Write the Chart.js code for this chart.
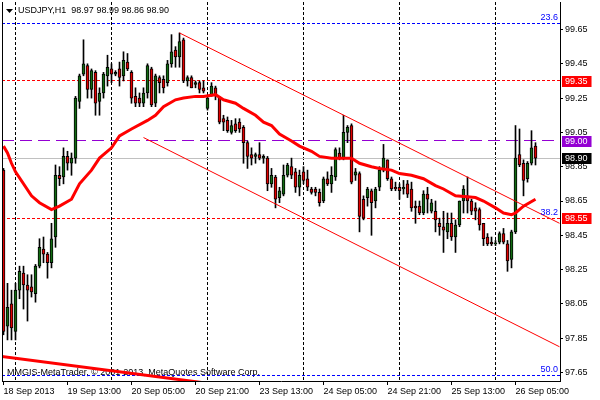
<!DOCTYPE html>
<html>
<head>
<meta charset="utf-8">
<script src="https://cdn.jsdelivr.net/npm/chart.js@4.4.0/dist/chart.umd.min.js"></script>
<style>
  html, body { margin: 0; padding: 0; background: #fff; }
</style>
</head>
<body>
<canvas id="myChart" width="600" height="400"></canvas>
<script>
const symbol = "USDJPY,H1";

// H1 bars, 18 Sep 21:00 .. 26 Sep 10:00
const opens = [98.83, 97.92, 98.05, 97.89, 98.13, 98.23, 98.16, 98.15, 98.11, 98.27, 98.37, 98.34, 98.29, 98.44, 98.80, 98.79, 98.91, 98.87, 98.90, 99.23,
  99.39, 99.44, 99.30, 99.40, 99.23, 99.28, 99.38, 99.42, 99.39, 99.42, 99.38, 99.46, 99.40, 99.26, 99.25, 99.22, 99.28, 99.42, 99.22, 99.37,
  99.36, 99.34, 99.45, 99.53, 99.49, 99.59, 99.35, 99.37, 99.33, 99.34, 99.31, 99.19, 99.27, 99.31, 99.25, 99.13, 99.12, 99.05, 99.10, 99.11,
  99.08, 98.99, 98.92, 98.91, 98.92, 98.90, 98.90, 98.75, 98.79, 98.67, 98.69, 98.80, 98.85, 98.82, 98.73, 98.82, 98.78, 98.72, 98.72, 98.70,
  98.65, 98.78, 98.75, 98.79, 98.93, 98.90, 99.05, 99.09, 98.80, 98.81, 98.66, 98.67, 98.71, 98.65, 98.73, 98.83, 98.89, 98.78, 98.73, 98.73,
  98.72, 98.75, 98.72, 98.62, 98.62, 98.58, 98.69, 98.59, 98.59, 98.52, 98.50, 98.47, 98.52, 98.44, 98.51, 98.65, 98.68, 98.65, 98.61, 98.60,
  98.52, 98.44, 98.41, 98.40, 98.41, 98.46, 98.40, 98.31, 98.47, 98.92, 98.87, 98.78, 98.87, 98.97];
const highs = [98.84, 98.17, 98.13, 98.17, 98.27, 98.27, 98.22, 98.22, 98.28, 98.43, 98.44, 98.35, 98.52, 98.86, 98.85, 98.96, 98.94, 98.93, 99.26, 99.39,
  99.59, 99.45, 99.42, 99.41, 99.31, 99.40, 99.50, 99.45, 99.41, 99.46, 99.52, 99.51, 99.41, 99.31, 99.28, 99.31, 99.45, 99.43, 99.39, 99.38,
  99.38, 99.47, 99.62, 99.55, 99.63, 99.60, 99.38, 99.38, 99.35, 99.35, 99.35, 99.26, 99.34, 99.32, 99.26, 99.15, 99.14, 99.12, 99.13, 99.13,
  99.09, 99.00, 98.96, 98.93, 98.99, 98.92, 98.91, 98.84, 98.80, 98.73, 98.86, 98.87, 98.90, 98.84, 98.83, 98.85, 98.83, 98.73, 98.73, 98.72,
  98.79, 98.82, 98.85, 98.96, 98.96, 99.15, 99.09, 99.10, 98.84, 98.82, 98.68, 98.73, 98.72, 98.73, 98.85, 98.98, 98.89, 98.79, 98.76, 98.75,
  98.77, 98.77, 98.76, 98.65, 98.65, 98.71, 98.73, 98.66, 98.65, 98.55, 98.59, 98.58, 98.58, 98.54, 98.65, 98.74, 98.79, 98.66, 98.64, 98.61,
  98.52, 98.46, 98.44, 98.42, 98.47, 98.49, 98.42, 98.48, 99.09, 99.07, 98.89, 98.88, 99.06, 98.99];
const lows = [97.87, 97.84, 97.84, 97.84, 98.08, 98.02, 97.95, 98.09, 98.06, 98.26, 98.29, 98.20, 98.26, 98.38, 98.74, 98.75, 98.83, 98.80, 98.87, 99.19,
  99.38, 99.25, 99.25, 99.15, 99.15, 99.25, 99.32, 99.34, 99.38, 99.32, 99.35, 99.41, 99.22, 99.20, 99.20, 99.20, 99.25, 99.20, 99.20, 99.28,
  99.28, 99.32, 99.43, 99.43, 99.43, 99.34, 99.32, 99.31, 99.31, 99.28, 99.28, 99.18, 99.26, 99.24, 99.10, 99.06, 99.05, 99.04, 99.05, 99.05,
  98.87, 98.84, 98.86, 98.87, 98.89, 98.87, 98.71, 98.73, 98.61, 98.64, 98.68, 98.79, 98.78, 98.70, 98.68, 98.75, 98.71, 98.69, 98.68, 98.62,
  98.64, 98.74, 98.70, 98.77, 98.89, 98.89, 98.99, 98.75, 98.77, 98.47, 98.54, 98.62, 98.45, 98.61, 98.71, 98.82, 98.77, 98.71, 98.71, 98.66,
  98.69, 98.67, 98.59, 98.52, 98.57, 98.57, 98.58, 98.58, 98.47, 98.45, 98.35, 98.43, 98.42, 98.35, 98.50, 98.58, 98.58, 98.57, 98.54, 98.48,
  98.39, 98.39, 98.39, 98.39, 98.40, 98.40, 98.24, 98.26, 98.46, 98.85, 98.68, 98.76, 98.86, 98.86];
const closes = [97.89, 98.03, 97.91, 98.13, 98.24, 98.16, 98.13, 98.12, 98.27, 98.38, 98.34, 98.29, 98.43, 98.80, 98.78, 98.91, 98.87, 98.90, 99.25, 99.38,
  99.45, 99.30, 99.41, 99.22, 99.28, 99.39, 99.43, 99.39, 99.40, 99.37, 99.47, 99.42, 99.25, 99.22, 99.22, 99.28, 99.44, 99.21, 99.38, 99.34,
  99.31, 99.45, 99.52, 99.49, 99.58, 99.35, 99.37, 99.31, 99.34, 99.30, 99.29, 99.25, 99.32, 99.27, 99.11, 99.11, 99.06, 99.09, 99.06, 99.07,
  98.99, 98.91, 98.90, 98.92, 98.90, 98.91, 98.75, 98.80, 98.66, 98.71, 98.80, 98.86, 98.80, 98.73, 98.80, 98.77, 98.73, 98.70, 98.70, 98.64,
  98.78, 98.75, 98.80, 98.95, 98.90, 99.05, 99.08, 98.76, 98.82, 98.56, 98.55, 98.72, 98.64, 98.72, 98.83, 98.90, 98.78, 98.72, 98.72, 98.71,
  98.73, 98.69, 98.61, 98.61, 98.58, 98.69, 98.66, 98.64, 98.54, 98.50, 98.48, 98.52, 98.44, 98.51, 98.65, 98.72, 98.65, 98.59, 98.59, 98.51,
  98.43, 98.40, 98.40, 98.40, 98.46, 98.41, 98.30, 98.47, 98.90, 98.86, 98.77, 98.87, 98.96, 98.90];

// moving average, sampled along the bars
const maBars = [0, 1, 2, 3, 7, 9, 12, 14, 17, 19, 22, 24, 27, 29, 32, 36, 38, 40, 43, 45, 48, 50, 53, 55, 58, 60, 63, 65, 67, 69,
  72, 74, 77, 79, 82, 84, 87, 89, 92, 94, 97, 99, 102, 105, 108, 110, 113, 118, 120, 123, 125, 127, 128, 130, 133];
const maValues = [98.97, 98.93, 98.87, 98.82, 98.68, 98.64, 98.60, 98.62, 98.66, 98.75, 98.83, 98.90, 98.96, 99.03, 99.07, 99.12, 99.15, 99.20, 99.24, 99.25,
  99.26, 99.26, 99.27, 99.24, 99.22, 99.19, 99.15, 99.11, 99.09, 99.04, 99.00, 98.97, 98.94, 98.91, 98.90, 98.90, 98.90, 98.87, 98.85, 98.84,
  98.83, 98.81, 98.80, 98.78, 98.74, 98.72, 98.68, 98.67, 98.65, 98.61, 98.58, 98.57, 98.58, 98.62, 98.66];

// trend channel and the other trend line
const upperBars = [44, 139];
const upperValues = [99.63, 98.52];
const lowerBars = [35, 139];
const lowerValues = [99.02, 97.80];
const trendBars = [-1, 60];
const trendValues = [97.745, 97.56];

// horizontal levels
const levelPrices = [99.35, 99.00, 98.90, 98.55];
const fiboNames = ["23.6", "38.2", "50.0"];
const fiboPrices = [99.685, 98.55, 97.633];

// axes
const xTickBars = [0, 16, 32, 48, 64, 80, 96, 112, 128];
const xTickLabels = ["18 Sep 2013", "19 Sep 13:00", "20 Sep 05:00", "20 Sep 21:00", "23 Sep 13:00", "24 Sep 05:00", "24 Sep 21:00", "25 Sep 13:00", "26 Sep 05:00"];
const dayBars = [3, 27, 51, 75, 99, 123];
const yTicks = [97.65, 97.85, 98.05, 98.25, 98.45, 98.65, 98.85, 99.05, 99.25, 99.45, 99.65];

const X_MIN = -0.375, X_MAX = 139.125;
const Y_MIN = 97.60044, Y_MAX = 99.81035;
const FONT = "9px 'Liberation Sans', Arial, sans-serif";
const levelColors = ["#ff0000", "#9400d3", "#000000", "#ff0000"];
const levelLineColors = ["#ff0000", "#9400d3", "#c0c0c0", "#ff0000"];
const levelDashes = [[3, 2], [12, 6], [], [3, 2]];

function hLine(price, color, dash, order) {
  return {
    type: "line",
    data: [{ x: X_MIN, y: price }, { x: X_MAX, y: price }],
    borderColor: color,
    borderWidth: 1,
    borderDash: dash,
    pointRadius: 0,
    order: order,
    clip: 0,
    snap: true,
  };
}

const datasets = [];
fiboPrices.forEach((p) => datasets.push(hLine(p, "#0000ff", [3, 2], 20)));
levelPrices.forEach((p, i) => datasets.push(hLine(p, levelLineColors[i], levelDashes[i], 15)));

datasets.push({
  type: "bar",
  data: opens.map((o, i) => ({ x: i, y: [lows[i], highs[i]] })),
  backgroundColor: "#000",
  borderWidth: 0,
  barThickness: 1,
  grouped: false,
  order: 6,
});
datasets.push({
  type: "bar",
  data: opens.map((o, i) => ({ x: i, y: [o, closes[i]] })),
  backgroundColor: (c) => (closes[c.dataIndex] >= opens[c.dataIndex] ? "#126b12" : "#e00000"),
  borderColor: "#000",
  borderWidth: 1,
  borderSkipped: false,
  barThickness: 3,
  minBarLength: 1,
  grouped: false,
  order: 5,
});

const lineStyle = { type: "line", borderColor: "#ff0000", pointRadius: 0, tension: 0, clip: 0 };
datasets.push(Object.assign({}, lineStyle, { data: upperBars.map((b, i) => ({ x: b, y: upperValues[i] })), borderWidth: 1, order: 4 }));
datasets.push(Object.assign({}, lineStyle, { data: lowerBars.map((b, i) => ({ x: b, y: lowerValues[i] })), borderWidth: 1, order: 4 }));
datasets.push(Object.assign({}, lineStyle, { data: trendBars.map((b, i) => ({ x: b, y: trendValues[i] })), borderWidth: 3, order: 2 }));
datasets.push(Object.assign({}, lineStyle, { data: maBars.map((b, i) => ({ x: b, y: maValues[i] })), borderWidth: 3, order: 1 }));

function noPad(s) {
  s.paddingTop = 0;
  s.paddingBottom = 0;
  s.paddingLeft = 0;
  s.paddingRight = 0;
}

const mtPlugin = {
  id: "mt",
  afterDatasetsUpdate(chart) {
    // keep the 1px horizontal levels on whole pixels
    chart.data.datasets.forEach((ds, i) => {
      if (!ds.snap) return;
      chart.getDatasetMeta(i).data.forEach((pt) => { pt.y = Math.round(pt.y - 0.5) + 0.5; });
    });
  },
  beforeDraw(chart) {
    const c = chart.ctx;
    c.save();
    c.fillStyle = "#fff";
    c.fillRect(0, 0, chart.width, chart.height);
    c.restore();
  },
  beforeDatasetsDraw(chart) {
    const c = chart.ctx;
    c.save();
    c.font = FONT;
    c.fillStyle = "#000";
    c.textBaseline = "middle";
    c.fillText("MMGIS-MetaTrader, \u00a9 2001-2013, MetaQuotes Software Corp.", 7, 373);
    c.restore();
  },
  afterDraw(chart) {
    const c = chart.ctx;
    const a = chart.chartArea;
    const y = chart.scales.y;
    c.save();
    // left frame
    c.strokeStyle = "#000";
    c.lineWidth = 1;
    c.beginPath();
    c.moveTo(a.left + 0.5, a.top);
    c.lineTo(a.left + 0.5, a.bottom);
    c.stroke();

    // title
    const n = closes.length - 1;
    c.fillStyle = "#000";
    c.beginPath();
    c.moveTo(6, 9);
    c.lineTo(13, 9);
    c.lineTo(9.5, 13);
    c.closePath();
    c.fill();
    c.font = FONT;
    c.textBaseline = "middle";
    c.fillText(symbol + "  " + [opens[n], highs[n], lows[n], closes[n]].map((v) => v.toFixed(2)).join(" "), 18, 11);

    // fibo level names
    c.fillStyle = "#0000ff";
    c.textAlign = "right";
    c.textBaseline = "bottom";
    fiboPrices.forEach((p, i) => c.fillText(fiboNames[i], a.right - 2, Math.round(y.getPixelForValue(p)) - 1));

    // price tags on the axis
    c.textAlign = "left";
    c.textBaseline = "middle";
    levelPrices.forEach((p, i) => {
      const py = Math.round(y.getPixelForValue(p));
      const txt = p.toFixed(2);
      const w = c.measureText(txt).width;
      c.fillStyle = levelColors[i];
      c.fillRect(a.right + 2, py - 5, w + 7, 11);
      c.fillStyle = "#fff";
      c.fillText(txt, a.right + 5, py + 0.5);
    });
    c.restore();
  },
};

const ctx = document.getElementById("myChart");

const myChart = new Chart(ctx, {
  type: "bar",
  data: { datasets: datasets },
  options: {
    responsive: false,
    animation: false,
    events: [],
    layout: { padding: { left: 2, top: 2, right: 0, bottom: 0 } },
    plugins: {
      legend: false,
      tooltip: false,
      title: false,
    },
    scales: {
      x: {
        type: "linear",
        position: "bottom",
        min: X_MIN,
        max: X_MAX,
        offset: false,
        afterBuildTicks: (s) => { s.ticks = xTickBars.map((v) => ({ value: v })); },
        afterFit: (s) => { s.height = 19; noPad(s); },
        ticks: {
          callback: (v, i) => xTickLabels[i],
          font: { family: "'Liberation Sans', Arial, sans-serif", size: 9 },
          color: "#000",
          align: "start",
          autoSkip: false,
          maxRotation: 0,
          minRotation: 0,
          padding: 1,
        },
        grid: { drawOnChartArea: false, drawTicks: true, tickLength: 4, color: "#000", offset: false },
        border: { display: true, color: "#000" },
      },
      xg: {
        type: "linear",
        position: "top",
        min: X_MIN,
        max: X_MAX,
        offset: false,
        afterBuildTicks: (s) => { s.ticks = dayBars.map((v) => ({ value: v })); },
        afterFit: (s) => { s.height = 0; noPad(s); },
        ticks: { display: false },
        grid: { drawTicks: false, color: "#000", lineWidth: 1, offset: false },
        border: { display: false, dash: [3, 2] },
      },
      y: {
        type: "linear",
        position: "right",
        min: Y_MIN,
        max: Y_MAX,
        afterBuildTicks: (s) => { s.ticks = yTicks.map((v) => ({ value: v })); },
        afterFit: (s) => { s.width = 40; noPad(s); },
        ticks: {
          callback: (v) => v.toFixed(2),
          font: { family: "'Liberation Sans', Arial, sans-serif", size: 9 },
          color: "#000",
          padding: 2,
          autoSkip: false,
        },
        grid: { drawOnChartArea: false, drawTicks: true, tickLength: 3, color: "#000" },
        border: { display: true, color: "#000" },
      },
    },
  },
  plugins: [mtPlugin],
});
</script>
</body>
</html>
